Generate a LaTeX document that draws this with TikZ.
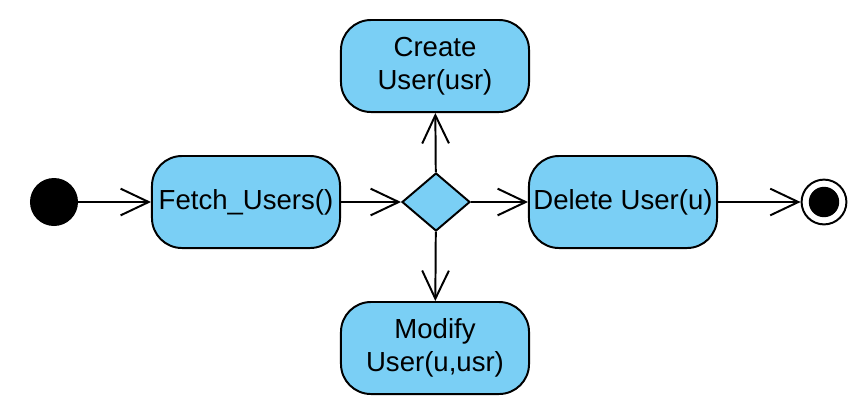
\documentclass[tikz,border=0pt]{standalone}
\usepackage{fontspec}
\setmainfont{Liberation Sans}
\usetikzlibrary{arrows.meta, shapes.geometric}
\definecolor{actblue}{RGB}{122, 207, 245}

\tikzset{
    action/.style={
        rectangle,
        rounded corners=0.75cm,
        fill=actblue,
        draw=black,
        line width=1.4pt,
        minimum width=4.7cm,
        minimum height=2.3cm,
        align=center,
        inner sep=2pt,
        font=\fontsize{19.6}{23.5}\selectfont
    },
    decision/.style={
        diamond,
        fill=actblue,
        draw=black,
        line width=1.4pt,
        minimum width=1.7cm,
        minimum height=1.45cm,
        inner sep=0pt
    },
    flow/.style={
        line width=1.4pt,
        -{Straight Barb[length=20pt, width=19pt, line width=1.4pt]}
    }
}

\begin{document}
\begin{tikzpicture}[x=0.025cm, y=0.025cm]
    \useasboundingbox (0,0) rectangle (867,-410);

    % start and end
    \node[circle, fill=black, minimum size=1.2cm, inner sep=0pt] (start) at (54,-202) {};
    \node[circle, draw=black, line width=1.4pt, fill=white, minimum size=1.12cm, inner sep=0pt] (stop) at (824,-202) {};
    \node[circle, fill=black, minimum size=0.76cm, inner sep=0pt] (stopdot) at (stop) {};

    % actions
    \node[action] (fetch) at (246,-202) {Fetch\_Users()};
    \node[decision] (choice) at (436,-202) {};
    \node[action] (create) at (435,-66) {Create\\User(usr)};
    \node[action] (modify) at (435,-348) {Modify\\User(u,usr)};
    \node[action] (delete) at (623,-202) {Delete User(u)};

    % flows
    \draw[flow] (start) -- (fetch);
    \draw[flow] (fetch) -- (choice);
    \draw[flow] (choice) -- (create);
    \draw[flow] (choice) -- (modify);
    \draw[flow] (choice) -- (delete);
    \draw[flow] (delete) -- (stop);
\end{tikzpicture}
\end{document}
